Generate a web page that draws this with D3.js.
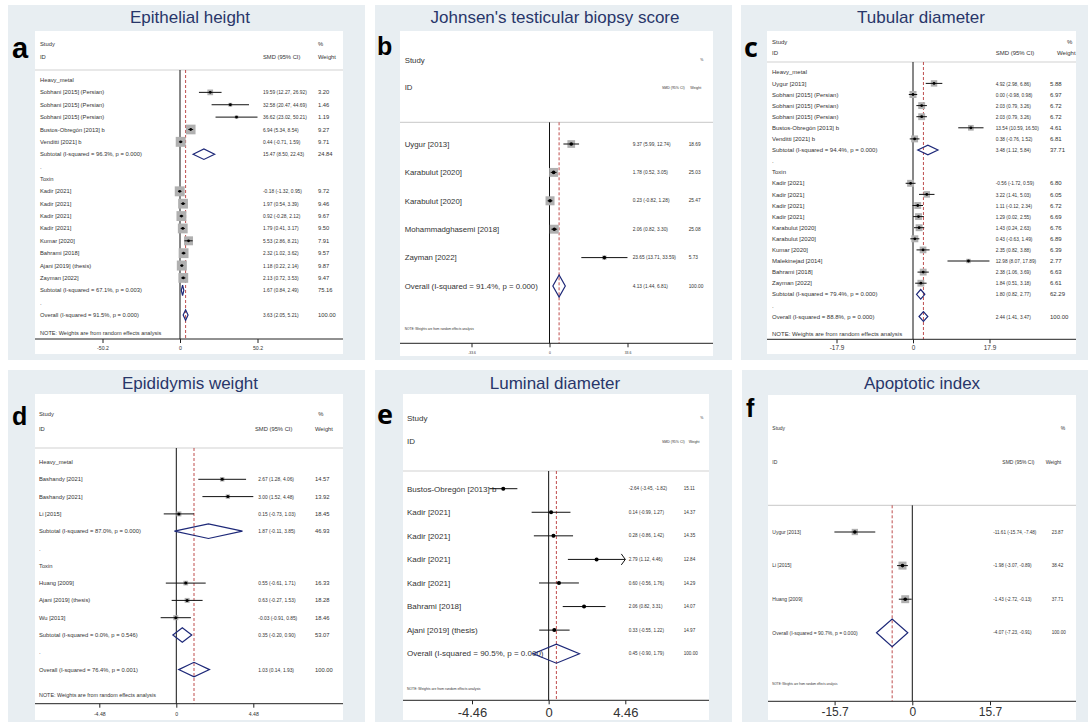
<!DOCTYPE html>
<html>
<head>
<meta charset="utf-8">
<script src="https://cdn.jsdelivr.net/npm/d3@7"></script>
<style>
  body { margin: 0; background: #fff; }
  svg text { font-family: "Liberation Sans", Arial, sans-serif; }
</style>
</head>
<body>
<svg id="chart" width="1088" height="722"></svg>
<script>
// ---------- Data: a. Epithelial height ----------
const epiLabels = ["Heavy_metal", "Sobhani [2015] (Persian)", "Sobhani [2015] (Persian)", "Sobhani [2015] (Persian)",
  "Bustos-Obregón [2013] b", "Venditti [2021] b", "Subtotal  (I-squared = 96.3%, p = 0.000)", ".", "Toxin",
  "Kadir [2021]", "Kadir [2021]", "Kadir [2021]", "Kadir [2021]", "Kumar [2020]", "Bahrami [2018]",
  "Ajani [2019] (thesis)", "Zayman [2022]", "Subtotal  (I-squared = 67.1%, p = 0.003)", ".",
  "Overall  (I-squared = 91.5%, p = 0.000)"];
const epiKind = ["head", "study", "study", "study", "study", "study", "pool", "gap", "head",
  "study", "study", "study", "study", "study", "study", "study", "study", "pool", "gap", "pool"];
const epiEst = [null, 19.59, 32.58, 36.62, 6.94, 0.44, 15.47, null, null, -0.18, 1.97, 0.92, 1.79, 5.53, 2.32, 1.18, 2.13, 1.67, null, 3.63];
const epiLo = [null, 12.27, 20.47, 23.02, 5.34, -0.71, 8.50, null, null, -1.32, 0.54, -0.28, 0.41, 2.86, 1.02, 0.22, 0.72, 0.84, null, 2.05];
const epiHi = [null, 26.92, 44.69, 50.21, 8.54, 1.59, 22.43, null, null, 0.95, 3.39, 2.12, 3.17, 8.21, 3.62, 2.14, 3.53, 2.49, null, 5.21];
const epiWeight = [null, 3.20, 1.46, 1.19, 9.27, 9.71, 24.84, null, null, 9.72, 9.46, 9.67, 9.50, 7.91, 9.57, 9.87, 9.47, 75.16, null, 100.00];
const epiTicks = [-50.2, 0, 50.2];

// ---------- Data: b. Johnsen's testicular biopsy score ----------
const jtbLabels = ["Uygur [2013]", "Karabulut [2020]", "Karabulut [2020]", "Mohammadghasemi [2018]", "Zayman [2022]",
  "Overall  (I-squared = 91.4%, p = 0.000)"];
const jtbKind = ["study", "study", "study", "study", "study", "pool"];
const jtbEst = [9.37, 1.78, 0.23, 2.06, 23.65, 4.13];
const jtbLo = [5.99, 0.52, -0.82, 0.82, 13.71, 1.44];
const jtbHi = [12.74, 3.05, 1.28, 3.30, 33.59, 6.81];
const jtbWeight = [18.69, 25.03, 25.47, 25.08, 5.73, 100.00];
const jtbTicks = [-33.6, 0, 33.6];

// ---------- Data: c. Tubular diameter ----------
const tubLabels = ["Heavy_metal", "Uygur [2013]", "Sobhani [2015] (Persian)", "Sobhani [2015] (Persian)", "Sobhani [2015] (Persian)",
  "Bustos-Obregón [2013] b", "Venditti [2021] b", "Subtotal  (I-squared = 94.4%, p = 0.000)", ".", "Toxin",
  "Kadir [2021]", "Kadir [2021]", "Kadir [2021]", "Kadir [2021]", "Karabulut [2020]", "Karabulut [2020]",
  "Kumar [2020]", "Malekinejad [2014]", "Bahrami [2018]", "Zayman [2022]",
  "Subtotal  (I-squared = 79.4%, p = 0.000)", ".", "Overall  (I-squared = 88.8%, p = 0.000)"];
const tubKind = ["head", "study", "study", "study", "study", "study", "study", "pool", "gap", "head",
  "study", "study", "study", "study", "study", "study", "study", "study", "study", "study", "pool", "gap", "pool"];
const tubEst = [null, 4.92, 0.00, 2.03, 2.03, 13.54, 0.38, 3.48, null, null, -0.56, 3.22, 1.11, 1.29, 1.43, 0.43, 2.35, 12.98, 2.38, 1.84, 1.80, null, 2.44];
const tubLo = [null, 2.98, -0.98, 0.79, 0.79, 10.59, -0.76, 1.12, null, null, -1.72, 1.41, -0.12, 0.02, 0.24, -0.63, 0.82, 8.07, 1.06, 0.51, 0.82, null, 1.41];
const tubHi = [null, 6.86, 0.98, 3.26, 3.26, 16.50, 1.52, 5.84, null, null, 0.59, 5.03, 2.34, 2.55, 2.63, 1.49, 3.88, 17.89, 3.69, 3.18, 2.77, null, 3.47];
const tubWeight = [null, 5.88, 6.97, 6.72, 6.72, 4.61, 6.81, 37.71, null, null, 6.80, 6.05, 6.72, 6.69, 6.76, 6.89, 6.39, 2.77, 6.63, 6.61, 62.29, null, 100.00];
const tubTicks = [-17.9, 0, 17.9];

// ---------- Data: d. Epididymis weight ----------
const epdLabels = ["Heavy_metal", "Bashandy [2021]", "Bashandy [2021]", "Li [2015]",
  "Subtotal  (I-squared = 87.0%, p = 0.000)", ".", "Toxin", "Huang [2009]", "Ajani [2019] (thesis)", "Wu [2013]",
  "Subtotal  (I-squared = 0.0%, p = 0.546)", ".", "Overall  (I-squared = 76.4%, p = 0.001)"];
const epdKind = ["head", "study", "study", "study", "pool", "gap", "head", "study", "study", "study", "pool", "gap", "pool"];
const epdEst = [null, 2.67, 3.00, 0.15, 1.87, null, null, 0.55, 0.63, -0.03, 0.35, null, 1.03];
const epdLo = [null, 1.28, 1.52, -0.73, -0.11, null, null, -0.61, -0.27, -0.91, -0.20, null, 0.14];
const epdHi = [null, 4.06, 4.48, 1.03, 3.85, null, null, 1.71, 1.53, 0.85, 0.90, null, 1.93];
const epdWeight = [null, 14.57, 13.92, 18.45, 46.93, null, null, 16.33, 18.28, 18.46, 53.07, null, 100.00];
const epdTicks = [-4.48, 0, 4.48];

// ---------- Data: e. Luminal diameter ----------
const lumLabels = ["Bustos-Obregón [2013] b", "Kadir [2021]", "Kadir [2021]", "Kadir [2021]", "Kadir [2021]",
  "Bahrami [2018]", "Ajani [2019] (thesis)", "Overall  (I-squared = 90.5%, p = 0.000)"];
const lumKind = ["study", "study", "study", "study", "study", "study", "study", "pool"];
const lumEst = [-2.64, 0.14, 0.28, 2.79, 0.60, 2.06, 0.33, 0.45];
const lumLo = [-3.45, -0.99, -0.86, 1.12, -0.56, 0.82, -0.55, -0.90];
const lumHi = [-1.82, 1.27, 1.42, 4.46, 1.76, 3.31, 1.22, 1.79];
const lumWeight = [15.11, 14.37, 14.35, 12.84, 14.29, 14.07, 14.97, 100.00];
const lumTicks = [-4.46, 0, 4.46];

// ---------- Data: f. Apoptotic index ----------
const apoLabels = ["Uygur [2013]", "Li [2015]", "Huang [2009]", "Overall  (I-squared = 90.7%, p = 0.000)"];
const apoKind = ["study", "study", "study", "pool"];
const apoEst = [-11.61, -1.98, -1.43, -4.07];
const apoLo = [-15.74, -3.07, -2.72, -7.23];
const apoHi = [-7.48, -0.89, -0.13, -0.91];
const apoWeight = [23.87, 38.42, 37.71, 100.00];
const apoTicks = [-15.7, 0, 15.7];

const note = "NOTE: Weights are from random effects analysis";

// ---------- Layout of the six panels ----------
const panels = [
  { title: "Epithelial height", letter: "a", labels: epiLabels, kind: epiKind, est: epiEst, lo: epiLo, hi: epiHi, weight: epiWeight, ticks: epiTicks,
    bg: [8, 5, 357, 355], plot: [35, 31, 308, 323], titleX: 190, titleY: 23, letterX: 12, letterY: 58, letterSize: 29,
    xr: [102.5, 257.5], head1: 43.5, head2: 56.7, headLine: 70, row0: 80, step: 12.37, axisY: 339, tickY: 348.3,
    labelX: 40, ciX: 263, wX: 318, smdX: 263, pctX: 318, wHX: 318, noteY: 333.3,
    fLabel: 5.8, fHeadL: 5.8, fHeadR: 5.8, fCi: 5.8, ciSx: 0.84, fNote: 5.6, fTick: 5.2, boxMax: 10, dotR: 1.4, diaH: 5.2 },
  { title: "Johnsen's testicular biopsy score", letter: "b", labels: jtbLabels, kind: jtbKind, est: jtbEst, lo: jtbLo, hi: jtbHi, weight: jtbWeight, ticks: jtbTicks,
    bg: [375, 5, 357, 355], plot: [400, 31, 313, 325], titleX: 555, titleY: 23, letterX: 377, letterY: 55, letterSize: 25,
    xr: [471.5, 627.5], head1: 60, head2: 87.3, headLine: 122.3, row0: 144, step: 28.4, axisY: 343.3, tickY: 352.7,
    labelX: 404.7, ciX: 632.7, wX: 688.7, smdX: 662, pctX: 700.3, wHX: 690.3, noteY: 329.3,
    fLabel: 7.8, fHeadL: 7.8, fHeadR: 3.5, fCi: 4.8, ciSx: 1, fNote: 3.2, fTick: 3.4, boxMax: 9, dotR: 1.8, diaH: 11 },
  { title: "Tubular diameter", letter: "c", labels: tubLabels, kind: tubKind, est: tubEst, lo: tubLo, hi: tubHi, weight: tubWeight, ticks: tubTicks,
    bg: [741, 5, 347, 355], plot: [767, 31, 309, 323], titleX: 921, titleY: 23, letterX: 744, letterY: 57, letterSize: 27, letterFont: "'Open Sans', sans-serif",
    xr: [836.5, 989.5], head1: 41.7, head2: 52.7, headLine: 62, row0: 72.3, step: 11.1, axisY: 339.3, tickY: 348,
    labelX: 772, ciX: 995.7, wX: 1050, smdX: 995.7, pctX: 1067, wHX: 1057, noteY: 334,
    fLabel: 6, fHeadL: 6, fHeadR: 6, fCi: 6, ciSx: 0.8, fNote: 6, fTick: 6.4, boxMax: 7, dotR: 1.4, diaH: 4.8 },
  { title: "Epididymis weight", letter: "d", labels: epdLabels, kind: epdKind, est: epdEst, lo: epdLo, hi: epdHi, weight: epdWeight, ticks: epdTicks,
    bg: [8, 370, 357, 352], plot: [35, 394, 308, 326], titleX: 190, titleY: 389, letterX: 12, letterY: 425, letterSize: 25,
    xr: [99.3, 253.3], head1: 413.7, head2: 428.7, headLine: 448, row0: 462, step: 17.3, axisY: 703.7, tickY: 713.7,
    labelX: 39, ciX: 258.3, wX: 315, smdX: 255, pctX: 318.3, wHX: 315, noteY: 695.3,
    fLabel: 5.8, fHeadL: 5.8, fHeadR: 5.8, fCi: 5.8, ciSx: 0.84, fNote: 5.4, fTick: 5.2, boxMax: 5, dotR: 1.5, diaH: 7.3 },
  { title: "Luminal diameter", letter: "e", labels: lumLabels, kind: lumKind, est: lumEst, lo: lumLo, hi: lumHi, weight: lumWeight, ticks: lumTicks,
    bg: [375, 370, 357, 352], plot: [403, 394, 306, 326], titleX: 555, titleY: 389, letterX: 377, letterY: 424, letterSize: 27, letterFont: "'Open Sans', sans-serif",
    xr: [472, 625.3], head1: 418, head2: 441.3, headLine: 471, row0: 488.7, step: 23.57, axisY: 700.3, tickY: 712,
    labelX: 407, ciX: 628.7, wX: 683.7, smdX: 662, pctX: 700.3, wHX: 688.7, noteY: 688.7,
    fLabel: 8, fHeadL: 8, fHeadR: 3.5, fCi: 4.6, ciSx: 1, fNote: 3.4, fTick: 13, boxMax: 3, dotR: 2, diaH: 9.5, arrowMax: 4.46 },
  { title: "Apoptotic index", letter: "f", labels: apoLabels, kind: apoKind, est: apoEst, lo: apoLo, hi: apoHi, weight: apoWeight, ticks: apoTicks,
    bg: [742, 370, 346, 352], plot: [768, 395, 308, 325], titleX: 922, titleY: 389, letterX: 746, letterY: 417, letterSize: 25,
    xr: [834.6, 990], head1: 428.7, head2: 462, headLine: 505.3, row0: 532, step: 33.6, axisY: 701.3, tickY: 712,
    labelX: 772.3, ciX: 993.3, wX: 1051.7, smdX: 1002.3, pctX: 1060.7, wHX: 1045.7, noteY: 684.3,
    fLabel: 5, fHeadL: 5, fHeadR: 5, fCi: 4.6, ciSx: 1, fNote: 3, fTick: 12, boxMax: 8, dotR: 1.8, diaH: 13.8 }
];

// Colours
const col = { bg: "#e8eef2", title: "#28366a", text: "#333", box: "#b0b0b0", diamond: "#1d2878", ref: "#b83a3a" };

const svg = d3.select("#chart");

function ciText(r) {
  return `${r.est.toFixed(2)} (${r.lo.toFixed(2)}, ${r.hi.toFixed(2)})`;
}

function drawForest(p) {
  const g = svg.append("g");

  // panel background + white graph area
  g.append("rect").attr("x", p.bg[0]).attr("y", p.bg[1]).attr("width", p.bg[2]).attr("height", p.bg[3]).attr("fill", col.bg);
  g.append("rect").attr("x", p.plot[0]).attr("y", p.plot[1]).attr("width", p.plot[2]).attr("height", p.plot[3]).attr("fill", "#fff");

  // title and panel letter
  g.append("text").attr("x", p.titleX).attr("y", p.titleY).attr("text-anchor", "middle")
    .style("font-size", "17px").attr("fill", col.title).text(p.title);
  g.append("text").attr("x", p.letterX).attr("y", p.letterY)
    .style("font-size", p.letterSize + "px").style("font-weight", "bold")
    .style("font-family", p.letterFont || null).attr("fill", "#000").text(p.letter);

  const x = d3.scaleLinear().domain([p.ticks[0], p.ticks[p.ticks.length - 1]]).range(p.xr);
  const y = d3.scaleLinear().domain([0, 1]).range([p.row0, p.row0 + p.step]);
  const left = p.plot[0], right = p.plot[0] + p.plot[2];

  const txt = (tx, ty, s, size) => g.append("text").attr("x", tx).attr("y", ty).attr("dy", "0.35em")
    .style("font-size", size + "px").attr("fill", col.text).text(s);

  // column headers
  txt(p.labelX, p.head1, "Study", p.fHeadL);
  txt(p.labelX, p.head2, "ID", p.fHeadL);
  txt(p.pctX, p.head1, "%", p.fHeadR);
  txt(p.smdX, p.head2, "SMD (95% CI)", p.fHeadR);
  txt(p.wHX, p.head2, "Weight", p.fHeadR);
  g.append("line").attr("x1", left).attr("x2", right).attr("y1", p.headLine).attr("y2", p.headLine)
    .attr("stroke", "#d2d2d2").attr("stroke-width", 1.2);

  const rows = p.labels.map((label, i) => ({ label, kind: p.kind[i], est: p.est[i], lo: p.lo[i], hi: p.hi[i], w: p.weight[i], i }));
  const overall = rows[rows.length - 1];
  const studies = rows.filter(r => r.kind === "study");
  const pools = rows.filter(r => r.kind === "pool");
  const maxW = d3.max(studies, r => r.w);
  const side = r => p.boxMax * Math.sqrt(r.w / maxW);

  // null line and overall-effect line
  g.append("line").attr("x1", x(0)).attr("x2", x(0)).attr("y1", p.headLine).attr("y2", p.axisY)
    .attr("stroke", "#111").attr("stroke-width", 1);
  g.append("line").attr("x1", x(overall.est)).attr("x2", x(overall.est)).attr("y1", p.headLine).attr("y2", p.axisY)
    .attr("stroke", col.ref).attr("stroke-width", 0.9).attr("stroke-dasharray", "3,2");

  // row labels
  g.selectAll("text.lab").data(rows).join("text").attr("class", "lab")
    .attr("x", p.labelX).attr("y", r => y(r.i)).attr("dy", "0.35em")
    .style("font-size", p.fLabel + "px").attr("fill", col.text).text(r => r.label);

  // weight boxes
  g.selectAll("rect.box").data(studies).join("rect").attr("class", "box")
    .attr("x", r => x(r.est) - side(r) / 2).attr("y", r => y(r.i) - side(r) / 2)
    .attr("width", side).attr("height", side).attr("fill", col.box);

  // confidence intervals (arrow when the CI reaches the axis end)
  const clipped = r => p.arrowMax != null && r.hi >= p.arrowMax;
  const hiX = r => clipped(r) ? x(p.arrowMax) : x(r.hi);
  g.selectAll("line.ci").data(studies).join("line").attr("class", "ci")
    .attr("x1", r => x(r.lo)).attr("x2", hiX).attr("y1", r => y(r.i)).attr("y2", r => y(r.i))
    .attr("stroke", "#111").attr("stroke-width", 1);
  g.selectAll("path.arrow").data(studies.filter(clipped)).join("path").attr("class", "arrow")
    .attr("d", r => `M${hiX(r) - 4},${y(r.i) - 5.5}L${hiX(r)},${y(r.i)}L${hiX(r) - 4},${y(r.i) + 5.5}`)
    .attr("fill", "none").attr("stroke", "#111").attr("stroke-width", 1);

  // point estimates
  g.selectAll("circle.pt").data(studies).join("circle").attr("class", "pt")
    .attr("cx", r => x(r.est)).attr("cy", r => y(r.i)).attr("r", p.dotR).attr("fill", "#000");

  // pooled diamonds
  g.selectAll("path.dia").data(pools).join("path").attr("class", "dia")
    .attr("d", r => `M${x(r.lo)},${y(r.i)}L${x(r.est)},${y(r.i) - p.diaH}L${x(r.hi)},${y(r.i)}L${x(r.est)},${y(r.i) + p.diaH}Z`)
    .attr("fill", "none").attr("stroke", col.diamond).attr("stroke-width", 1.2);

  // effect size and weight columns
  const withEst = rows.filter(r => r.est != null);
  g.selectAll("text.ci").data(withEst).join("text").attr("class", "ci")
    .attr("transform", r => `translate(${p.ciX},${y(r.i)}) scale(${p.ciSx},1)`).attr("dy", "0.35em")
    .style("font-size", p.fCi + "px").attr("fill", col.text).text(ciText);
  g.selectAll("text.wt").data(withEst).join("text").attr("class", "wt")
    .attr("x", p.wX).attr("y", r => y(r.i)).attr("dy", "0.35em")
    .style("font-size", p.fCi + "px").attr("fill", col.text).text(r => r.w.toFixed(2));

  txt(p.labelX, p.noteY, note, p.fNote);

  // x axis
  g.append("line").attr("x1", left).attr("x2", right).attr("y1", p.axisY).attr("y2", p.axisY)
    .attr("stroke", "#222").attr("stroke-width", 1);
  const tickLen = 4;
  const ax = g.append("g").attr("transform", `translate(0,${p.axisY})`)
    .call(d3.axisBottom(x).tickValues(p.ticks).tickSize(tickLen)
      .tickPadding(p.tickY - p.axisY - tickLen - 0.36 * p.fTick).tickFormat(d => String(d)));
  ax.select(".domain").remove();
  ax.selectAll(".tick line").attr("stroke", "#222");
  ax.selectAll(".tick text").style("font-size", p.fTick + "px")
    .style("font-family", "'Liberation Sans', Arial, sans-serif").attr("fill", col.text);
}

panels.forEach(drawForest);
</script>
</body>
</html>
